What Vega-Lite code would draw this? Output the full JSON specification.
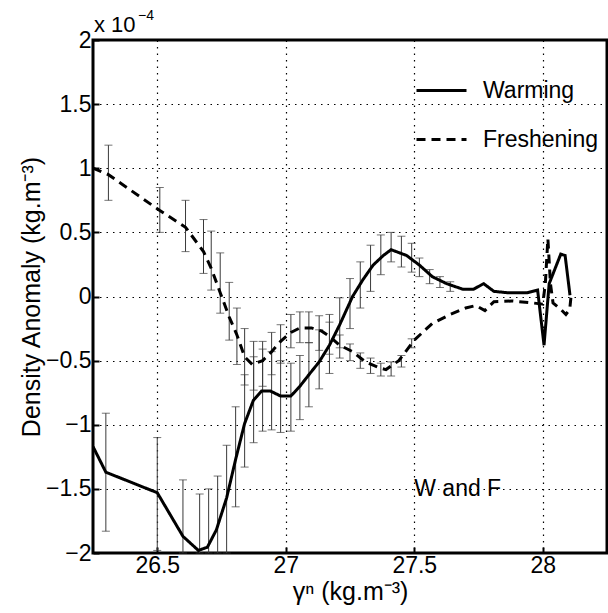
{
  "$schema": "https://vega.github.io/schema/vega-lite/v6.json",
  "width": 514,
  "height": 513,
  "autosize": {"type": "none"},
  "padding": {"left": 93, "top": 40, "right": 1, "bottom": 60},
  "background": "white",
  "config": {
    "font": "Liberation Sans",
    "view": {"stroke": "black", "strokeWidth": 3},
    "axis": {
      "labelFont": "Liberation Sans",
      "titleFont": "Liberation Sans",
      "labelFontSize": 23,
      "titleFontSize": 25,
      "titleFontWeight": "normal",
      "labelColor": "black",
      "titleColor": "black",
      "domain": false,
      "tickColor": "black",
      "tickSize": -6,
      "tickWidth": 2,
      "gridColor": "black",
      "gridDash": [1.5, 5],
      "gridWidth": 1.2,
      "gridOpacity": 1
    }
  },
  "datasets": {
    "lines": [
      {"series": "Warming", "x": 26.25, "y": -1.17},
      {"series": "Warming", "x": 26.30, "y": -1.37},
      {"series": "Warming", "x": 26.50, "y": -1.53},
      {"series": "Warming", "x": 26.60, "y": -1.87},
      {"series": "Warming", "x": 26.66, "y": -1.98},
      {"series": "Warming", "x": 26.695, "y": -1.955},
      {"series": "Warming", "x": 26.73, "y": -1.82},
      {"series": "Warming", "x": 26.77, "y": -1.57},
      {"series": "Warming", "x": 26.805, "y": -1.27},
      {"series": "Warming", "x": 26.84, "y": -0.99},
      {"series": "Warming", "x": 26.874, "y": -0.81},
      {"series": "Warming", "x": 26.906, "y": -0.737},
      {"series": "Warming", "x": 26.94, "y": -0.737},
      {"series": "Warming", "x": 26.98, "y": -0.776},
      {"series": "Warming", "x": 27.02, "y": -0.776},
      {"series": "Warming", "x": 27.055, "y": -0.70},
      {"series": "Warming", "x": 27.09, "y": -0.61},
      {"series": "Warming", "x": 27.13, "y": -0.51},
      {"series": "Warming", "x": 27.17, "y": -0.38},
      {"series": "Warming", "x": 27.21, "y": -0.22},
      {"series": "Warming", "x": 27.26, "y": 0.0},
      {"series": "Warming", "x": 27.30, "y": 0.13},
      {"series": "Warming", "x": 27.34, "y": 0.245},
      {"series": "Warming", "x": 27.38, "y": 0.32},
      {"series": "Warming", "x": 27.41, "y": 0.365},
      {"series": "Warming", "x": 27.47, "y": 0.32},
      {"series": "Warming", "x": 27.52, "y": 0.245},
      {"series": "Warming", "x": 27.57, "y": 0.155},
      {"series": "Warming", "x": 27.626, "y": 0.10},
      {"series": "Warming", "x": 27.69, "y": 0.056},
      {"series": "Warming", "x": 27.73, "y": 0.056},
      {"series": "Warming", "x": 27.77, "y": 0.10},
      {"series": "Warming", "x": 27.81, "y": 0.04},
      {"series": "Warming", "x": 27.86, "y": 0.03},
      {"series": "Warming", "x": 27.94, "y": 0.03},
      {"series": "Warming", "x": 27.98, "y": 0.05},
      {"series": "Warming", "x": 28.005, "y": -0.38},
      {"series": "Warming", "x": 28.025, "y": 0.10},
      {"series": "Warming", "x": 28.07, "y": 0.33},
      {"series": "Warming", "x": 28.087, "y": 0.32},
      {"series": "Warming", "x": 28.106, "y": 0.01},
      {"series": "Freshening", "x": 26.25, "y": 1.0},
      {"series": "Freshening", "x": 26.31, "y": 0.95},
      {"series": "Freshening", "x": 26.51, "y": 0.67},
      {"series": "Freshening", "x": 26.61, "y": 0.54},
      {"series": "Freshening", "x": 26.68, "y": 0.35},
      {"series": "Freshening", "x": 26.71, "y": 0.22},
      {"series": "Freshening", "x": 26.745, "y": 0.03},
      {"series": "Freshening", "x": 26.78, "y": -0.16},
      {"series": "Freshening", "x": 26.81, "y": -0.30},
      {"series": "Freshening", "x": 26.84, "y": -0.47},
      {"series": "Freshening", "x": 26.87, "y": -0.53},
      {"series": "Freshening", "x": 26.91, "y": -0.50},
      {"series": "Freshening", "x": 26.945, "y": -0.43},
      {"series": "Freshening", "x": 26.98, "y": -0.35},
      {"series": "Freshening", "x": 27.02, "y": -0.28},
      {"series": "Freshening", "x": 27.055, "y": -0.245},
      {"series": "Freshening", "x": 27.10, "y": -0.245},
      {"series": "Freshening", "x": 27.14, "y": -0.27},
      {"series": "Freshening", "x": 27.17, "y": -0.31},
      {"series": "Freshening", "x": 27.21, "y": -0.38},
      {"series": "Freshening", "x": 27.26, "y": -0.43},
      {"series": "Freshening", "x": 27.31, "y": -0.51},
      {"series": "Freshening", "x": 27.37, "y": -0.56},
      {"series": "Freshening", "x": 27.39, "y": -0.57},
      {"series": "Freshening", "x": 27.44, "y": -0.50},
      {"series": "Freshening", "x": 27.50, "y": -0.34},
      {"series": "Freshening", "x": 27.57, "y": -0.21},
      {"series": "Freshening", "x": 27.64, "y": -0.14},
      {"series": "Freshening", "x": 27.70, "y": -0.09},
      {"series": "Freshening", "x": 27.74, "y": -0.07},
      {"series": "Freshening", "x": 27.775, "y": -0.11},
      {"series": "Freshening", "x": 27.81, "y": -0.04},
      {"series": "Freshening", "x": 27.88, "y": -0.035},
      {"series": "Freshening", "x": 27.96, "y": -0.05},
      {"series": "Freshening", "x": 28.0, "y": -0.06},
      {"series": "Freshening", "x": 28.01, "y": 0.10},
      {"series": "Freshening", "x": 28.02, "y": 0.45},
      {"series": "Freshening", "x": 28.03, "y": 0.10},
      {"series": "Freshening", "x": 28.04, "y": -0.05},
      {"series": "Freshening", "x": 28.07, "y": -0.10},
      {"series": "Freshening", "x": 28.09, "y": -0.14},
      {"series": "Freshening", "x": 28.105, "y": -0.10},
      {"series": "Freshening", "x": 28.11, "y": 0.0}
    ],
    "errs": [
      {"series": "Warming", "x": 26.30, "lo": -1.83, "hi": -0.91},
      {"series": "Warming", "x": 26.50, "lo": -1.98, "hi": -1.10},
      {"series": "Warming", "x": 26.60, "lo": -2.0, "hi": -1.43},
      {"series": "Warming", "x": 26.665, "lo": -2.0, "hi": -1.54},
      {"series": "Warming", "x": 26.70, "lo": -2.0, "hi": -1.50},
      {"series": "Warming", "x": 26.735, "lo": -2.0, "hi": -1.40},
      {"series": "Warming", "x": 26.77, "lo": -2.0, "hi": -1.16},
      {"series": "Warming", "x": 26.805, "lo": -1.64, "hi": -0.86},
      {"series": "Warming", "x": 26.84, "lo": -1.33, "hi": -0.61},
      {"series": "Warming", "x": 26.875, "lo": -1.14, "hi": -0.47},
      {"series": "Warming", "x": 26.91, "lo": -1.05, "hi": -0.35},
      {"series": "Warming", "x": 26.945, "lo": -1.04, "hi": -0.43},
      {"series": "Warming", "x": 26.98, "lo": -1.06, "hi": -0.50},
      {"series": "Warming", "x": 27.02, "lo": -1.05, "hi": -0.52},
      {"series": "Warming", "x": 27.055, "lo": -0.96, "hi": -0.46},
      {"series": "Warming", "x": 27.09, "lo": -0.86, "hi": -0.36},
      {"series": "Warming", "x": 27.13, "lo": -0.72, "hi": -0.26},
      {"series": "Warming", "x": 27.17, "lo": -0.60, "hi": -0.14},
      {"series": "Warming", "x": 27.21, "lo": -0.40, "hi": -0.01},
      {"series": "Warming", "x": 27.25, "lo": -0.25, "hi": 0.14},
      {"series": "Warming", "x": 27.29, "lo": -0.09, "hi": 0.27},
      {"series": "Warming", "x": 27.33, "lo": 0.04, "hi": 0.40},
      {"series": "Warming", "x": 27.37, "lo": 0.17, "hi": 0.48},
      {"series": "Warming", "x": 27.41, "lo": 0.27, "hi": 0.50},
      {"series": "Warming", "x": 27.45, "lo": 0.23, "hi": 0.47},
      {"series": "Warming", "x": 27.49, "lo": 0.19, "hi": 0.415},
      {"series": "Warming", "x": 27.52, "lo": 0.155, "hi": 0.30},
      {"series": "Warming", "x": 27.56, "lo": 0.10, "hi": 0.21},
      {"series": "Warming", "x": 27.60, "lo": 0.07, "hi": 0.155},
      {"series": "Warming", "x": 27.64, "lo": 0.04, "hi": 0.115},
      {"series": "Freshening", "x": 26.31, "lo": 0.75, "hi": 1.18},
      {"series": "Freshening", "x": 26.51, "lo": 0.50, "hi": 0.85},
      {"series": "Freshening", "x": 26.61, "lo": 0.35, "hi": 0.75},
      {"series": "Freshening", "x": 26.68, "lo": 0.18, "hi": 0.60},
      {"series": "Freshening", "x": 26.71, "lo": 0.05, "hi": 0.51},
      {"series": "Freshening", "x": 26.745, "lo": -0.13, "hi": 0.34},
      {"series": "Freshening", "x": 26.78, "lo": -0.34, "hi": 0.11},
      {"series": "Freshening", "x": 26.81, "lo": -0.53, "hi": -0.09},
      {"series": "Freshening", "x": 26.84, "lo": -0.69, "hi": -0.25},
      {"series": "Freshening", "x": 26.875, "lo": -0.73, "hi": -0.35},
      {"series": "Freshening", "x": 26.91, "lo": -0.70, "hi": -0.41},
      {"series": "Freshening", "x": 26.945, "lo": -0.61, "hi": -0.28},
      {"series": "Freshening", "x": 26.98, "lo": -0.52, "hi": -0.22},
      {"series": "Freshening", "x": 27.02, "lo": -0.40, "hi": -0.14},
      {"series": "Freshening", "x": 27.055, "lo": -0.36, "hi": -0.12},
      {"series": "Freshening", "x": 27.09, "lo": -0.36, "hi": -0.12},
      {"series": "Freshening", "x": 27.13, "lo": -0.42, "hi": -0.15},
      {"series": "Freshening", "x": 27.17, "lo": -0.45, "hi": -0.20},
      {"series": "Freshening", "x": 27.21, "lo": -0.48, "hi": -0.30},
      {"series": "Freshening", "x": 27.25, "lo": -0.50, "hi": -0.37},
      {"series": "Freshening", "x": 27.29, "lo": -0.56, "hi": -0.44},
      {"series": "Freshening", "x": 27.33, "lo": -0.60, "hi": -0.48},
      {"series": "Freshening", "x": 27.37, "lo": -0.62, "hi": -0.52},
      {"series": "Freshening", "x": 27.41, "lo": -0.62, "hi": -0.51},
      {"series": "Freshening", "x": 27.45, "lo": -0.55, "hi": -0.46},
      {"series": "Freshening", "x": 27.49, "lo": -0.40, "hi": -0.33}
    ],
    "notes": [
      {"label": "W and F", "x": 27.5, "y": -1.5}
    ],
    "mult": [
      {"label": "x 10", "exp": "−4", "x": 26.25, "y": 2}
    ]
  },
  "layer": [
    {
      "data": {"name": "errs"},
      "mark": {"type": "rule", "color": "#3a3a3a", "strokeWidth": 1},
      "encoding": {
        "x": {"field": "x", "type": "quantitative", "scale": {"domain": [26.25, 28.25], "nice": false, "zero": false},
              "axis": {"values": [26.5, 27, 27.5, 28], "format": "~g", "title": "γⁿ (kg.m⁻³)", "labelPadding": 7, "titlePadding": 2}},
        "y": {"field": "lo", "type": "quantitative", "scale": {"domain": [-2, 2], "nice": false, "zero": false},
              "axis": {"values": [-2, -1.5, -1, -0.5, 0, 0.5, 1, 1.5, 2], "format": "~g", "title": "Density Anomaly (kg.m⁻³)", "labelPadding": 8, "titlePadding": 1}},
        "y2": {"field": "hi"}
      }
    },
    {
      "data": {"name": "errs"},
      "mark": {"type": "tick", "orient": "horizontal", "color": "#3a3a3a", "size": 8, "thickness": 1},
      "encoding": {
        "x": {"field": "x", "type": "quantitative"},
        "y": {"field": "lo", "type": "quantitative"}
      }
    },
    {
      "data": {"name": "errs"},
      "mark": {"type": "tick", "orient": "horizontal", "color": "#3a3a3a", "size": 8, "thickness": 1},
      "encoding": {
        "x": {"field": "x", "type": "quantitative"},
        "y": {"field": "hi", "type": "quantitative"}
      }
    },
    {
      "mark": {"type": "rule", "color": "black", "strokeWidth": 2.5},
      "encoding": {"y": {"datum": 0}}
    },
    {
      "data": {"name": "lines"},
      "mark": {"type": "line", "color": "black", "strokeWidth": 3, "clip": true},
      "encoding": {
        "x": {"field": "x", "type": "quantitative"},
        "y": {"field": "y", "type": "quantitative"},
        "detail": {"field": "series"},
        "strokeDash": {
          "field": "series", "type": "nominal",
          "scale": {"domain": ["Warming", "Freshening"], "range": [[1, 0], [9, 6]]},
          "legend": {
            "title": null, "orient": "none", "legendX": 322, "legendY": 24,
            "symbolType": "stroke", "symbolSize": 2500, "symbolStrokeWidth": 3,
            "symbolStrokeColor": "black", "labelFontSize": 23, "labelFont": "Liberation Sans",
            "labelColor": "black", "labelOffset": 15, "rowPadding": 10
          }
        }
      }
    },
    {
      "data": {"name": "notes"},
      "mark": {"type": "text", "align": "left", "baseline": "middle", "fontSize": 23, "color": "black"},
      "encoding": {
        "x": {"field": "x", "type": "quantitative"},
        "y": {"field": "y", "type": "quantitative"},
        "text": {"field": "label"}
      }
    },
    {
      "data": {"name": "mult"},
      "mark": {"type": "text", "align": "left", "baseline": "alphabetic", "fontSize": 22, "color": "black", "dx": 1, "dy": -8},
      "encoding": {
        "x": {"field": "x", "type": "quantitative"},
        "y": {"field": "y", "type": "quantitative"},
        "text": {"field": "label"}
      }
    },
    {
      "data": {"name": "mult"},
      "mark": {"type": "text", "align": "left", "baseline": "alphabetic", "fontSize": 14, "color": "black", "dx": 45, "dy": -20},
      "encoding": {
        "x": {"field": "x", "type": "quantitative"},
        "y": {"field": "y", "type": "quantitative"},
        "text": {"field": "exp"}
      }
    }
  ]
}
